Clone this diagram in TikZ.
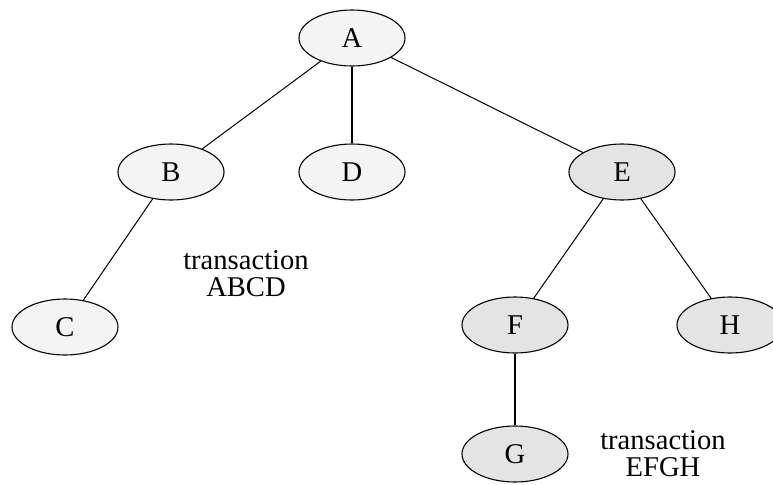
\documentclass[tikz,border=0pt]{standalone}
\usepackage{fontspec}
\setmainfont{Liberation Serif}
\usepackage{xcolor}
\usetikzlibrary{positioning,shapes.geometric}
\definecolor{lite}{RGB}{244,244,244}
\definecolor{dark}{RGB}{228,228,228}

\begin{document}
\begin{tikzpicture}[%
  on grid,%
  font=\fontsize{14.3}{13.5}\selectfont,%
  tx/.style={ellipse,draw,line width=0.55pt,minimum width=53pt,minimum height=28pt,inner sep=0pt},%
  ta/.style={tx,fill=lite},%
  tb/.style={tx,fill=dark},%
  edge/.style={line width=0.5pt},%
  vedge/.style={line width=0.9pt},%
  lbl/.style={align=center,inner sep=0pt}%
  ]
  \useasboundingbox (0,0) rectangle (386.5pt,-242pt);
  \node (A) [ta] at (176pt,-19pt) {A};
%
  \node (B) [ta,below left =67pt and 90.5pt of A] {B};
  \node (D) [ta,below      =67pt            of A] {D};
  \node (E) [tb,below right=67pt and 135pt  of A] {E};
%
  \node (C) [ta,below left =77.5pt and 53pt   of B] {C};
  \node (F) [tb,below left =76.5pt and 53.5pt of E] {F};
  \node (H) [tb,below right=76.5pt and 54pt   of E] {H};
%
  \node (G) [tb,below=64.5pt of F] {G};
%
  \node (lab1) [lbl,below right=51pt and 37.5pt of B] {transaction\\ABCD};
  \node (lab2) [lbl,above right=0pt and 74pt of G] {transaction\\EFGH};
%
  \draw[edge] (A) -- (B);
  \draw[vedge] (A) -- (D);
  \draw[edge] (A) -- (E);
%
  \draw[edge] (B) -- (C);
  \draw[edge] (E) -- (F);
  \draw[edge] (E) -- (H);
  \draw[vedge] (F) -- (G);
%
\end{tikzpicture}
\end{document}
